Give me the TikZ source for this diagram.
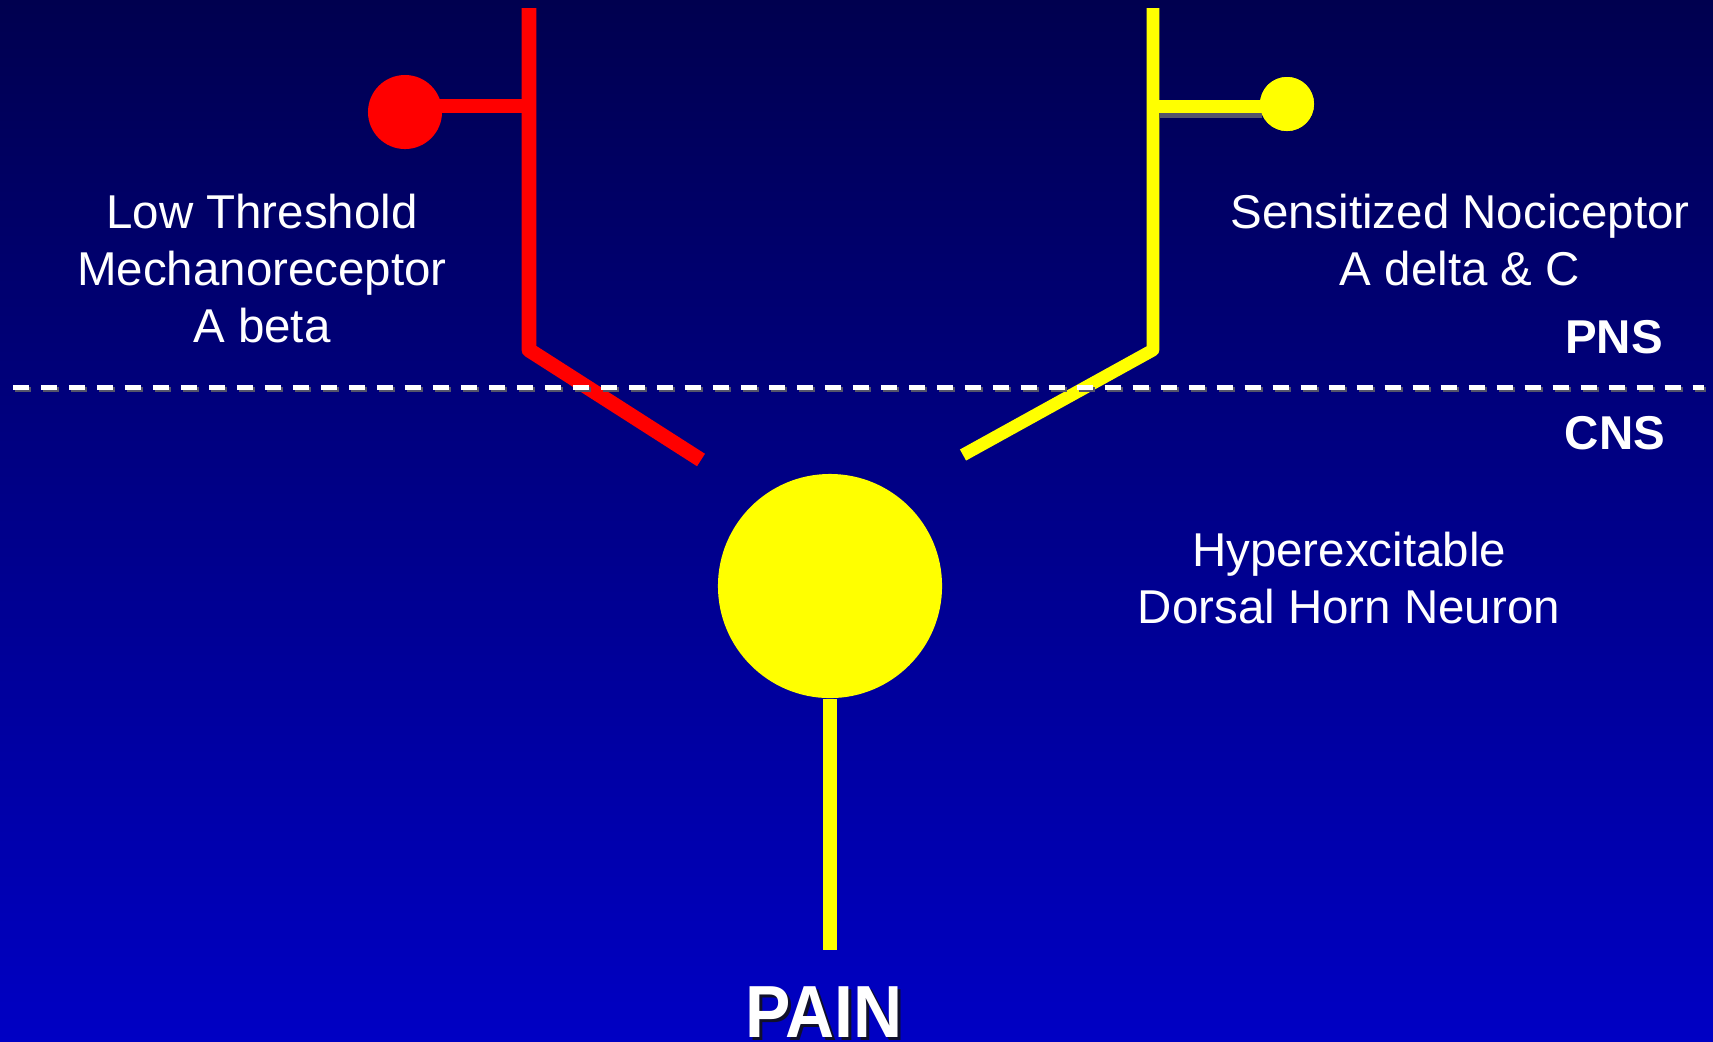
\documentclass[tikz,border=0pt]{standalone}
\usepackage{fontspec}
\setmainfont{Liberation Sans}
\usetikzlibrary{positioning}
\definecolor{navytop}{HTML}{00004F}
\definecolor{navybot}{HTML}{0000C4}
\definecolor{nred}{HTML}{FF0000}
\definecolor{nyellow}{HTML}{FFFF00}
\definecolor{nshadow}{HTML}{55556A}
\definecolor{tshadow}{HTML}{10102A}
\tikzset{
  every picture/.style={x=0.01cm, y=-0.01cm},
  fibre/.style={draw=#1, line width=4.2pt, line join=round},
  fibre/.default=nyellow,
  bulb/.style={circle, fill=#1, inner sep=0pt},
  lbl/.style={text=white, font=\fontsize{13.5}{16.2}\selectfont, align=center, inner sep=0pt, anchor=north},
  tag/.style={text=white, font=\fontsize{13.5}{16.2}\selectfont\bfseries, inner sep=0pt, anchor=base},
  bigtag/.style={tag, font=\fontsize{21}{25}\selectfont\bfseries, xscale=0.92},
  divider/.style={line width=1.42pt, dash pattern=on 4.55pt off 3.41pt},
}
\begin{document}
\begin{tikzpicture}
  \useasboundingbox (0,0) rectangle (1713,1041);
  \clip (0,0) rectangle (1713,1041);
  \shade[top color=navytop, bottom color=navybot] (0,0) rectangle (1713,1041);
  \coordinate (redtop) at (529,8); \coordinate (redbend) at (529,350); \coordinate (redend) at (701,460);
  \coordinate (redjoin) at (529,106);
  \coordinate (ylwtop) at (1153,8); \coordinate (ylwbend) at (1153,350); \coordinate (ylwend) at (963,455);
  \coordinate (ylwjoin) at (1153,106);
  \node[bulb=nred, minimum size=0.74cm] (mechbulb) at (405,112) {};
  \node[bulb=nyellow, minimum size=0.54cm] (nocibulb) at (1287,104) {};
  \node[bulb=nyellow, minimum size=2.24cm] (horn) at (830,586) {};
  \coordinate (stemend) at (830,950);
  \draw[fibre=nred] (redtop) -- (redbend) -- (redend);
  \draw[fibre=nred] (redjoin) -- (redjoin -| mechbulb);
  \draw[draw=nshadow, line width=3.7pt] (1160,111) -- (1262,111);
  \draw[fibre, line width=3.6pt] (ylwtop) -- (ylwbend) -- (ylwend);
  \draw[fibre, line width=3.7pt] (ylwjoin) -- (ylwjoin -| nocibulb);
  \node[bulb=nyellow, minimum size=0.54cm] at (nocibulb) {};
  \draw[fibre] (horn.south) -- (stemend);
  \coordinate (divleft) at (13,387); \coordinate (divright) at (1704,387);
  \draw[divider, draw=nshadow] ([shift={(2,2.5)}]divleft) -- ([shift={(2,2.5)}]divright);
  \draw[divider, draw=white] (divleft) -- (divright);
  \node[lbl] (mechtxt) at (262,193) {Low Threshold\\Mechanoreceptor\\A beta};
  \node[lbl] (nocitxt) at (1460,193) {Sensitized Nociceptor\\A delta \& C};
  \node[lbl] (horntxt) at (1349,531) {Hyperexcitable\\Dorsal Horn Neuron};
  \node[tag] (pns) at (1614,353) {PNS};
  \node[tag] (cns) at (1615,449) {CNS};
  \node[bigtag, text=tshadow] (painshadow) at (827,1040) {PAIN};
  \node[bigtag] (pain) at (824,1037) {PAIN};
\end{tikzpicture}
\end{document}
